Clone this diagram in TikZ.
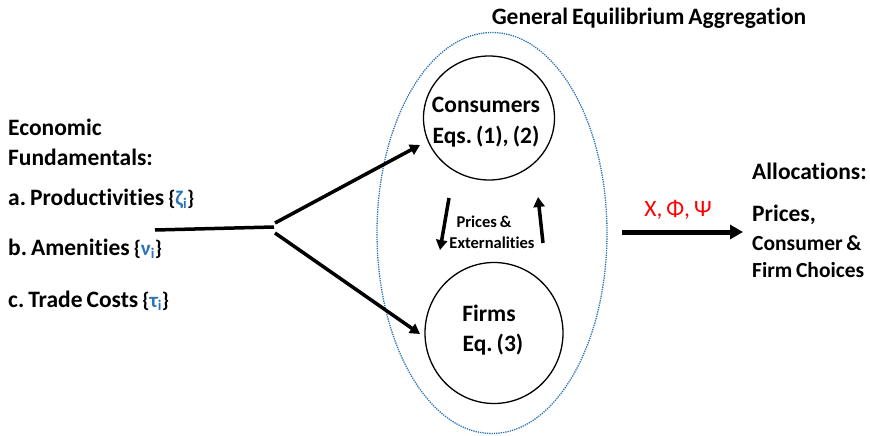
\documentclass[tikz,border=0pt]{standalone}
\usepackage{fontspec}
\setmainfont[Ligatures={NoCommon}]{Carlito}
\usetikzlibrary{arrows.meta,shapes.geometric}
\definecolor{gblue}{RGB}{46,117,182}
\definecolor{gred}{RGB}{255,0,0}
\frenchspacing
\newcommand{\tightsp}{\spaceskip=0.17em plus 0.05em}
\newcommand{\gsym}[1]{{\fontsize{21}{25}\selectfont\{\textcolor{gblue}{#1\textsubscript{i}}\}}}
\tikzset{
  lbl/.style={font=\bfseries\fontsize{23.5}{28}\selectfont\tightsp, anchor=west, inner sep=0pt},
  lbls/.style={font=\bfseries\fontsize{21.5}{26}\selectfont\tightsp, anchor=west, inner sep=0pt},
  ctr/.style={font=\bfseries\fontsize{23.5}{28}\selectfont\tightsp, inner sep=0pt},
  circ/.style={draw, ellipse, inner sep=0pt, line width=1.3pt},
  arr/.style={line width=3.5pt, -{Triangle[length=10pt,width=11pt]}},
  ln/.style={line width=3.5pt},
}
\begin{document}
\begin{tikzpicture}[x=1pt,y=-1pt]
\useasboundingbox (0,0) rectangle (870,436);
% ellipse
\node (ell) [draw=gblue, densely dotted, line width=1.3pt, ellipse, minimum width=230pt, minimum height=401pt, inner sep=0pt] at (492,233) {};
\node (title) [ctr] at (649,18) {General Equilibrium Aggregation};
% circles
\node (cons) [circ, minimum width=131pt, minimum height=124pt] at (489,118) {};
\node (firm) [circ, minimum width=138pt, minimum height=141pt] at (494,333) {};
\node (ct1) [ctr] at (486,105) {Consumers};
\node (ct2) [ctr] at (486,137) {Eqs. (1), (2)};
\node (ft1) [ctr] at (489,313) {Firms};
\node (ft2) [ctr] at (493,345) {Eq. (3)};
% left text
\node (e1) [lbl] at (8,127) {Economic};
\node (e2) [lbl] at (8,157) {Fundamentals:};
\node (a) [lbl] at (8,199) {a. Productivities \gsym{ζ}};
\node (b) [lbl] at (8,249) {b. Amenities \gsym{ν}};
\node (c) [lbl] at (8,301) {c. Trade Costs \gsym{τ}};
% connectors
\coordinate (s) at (155,230);
\coordinate (j) at (274,227);
\coordinate (ju) at (275,223);
\coordinate (jd) at (275,233);
\coordinate (up) at (420,145);
\coordinate (dn) at (420,334);
\draw[ln] (s) -- (j);
\draw[arr] (ju) -- (up);
\draw[arr] (jd) -- (dn);
\coordinate (d1) at (449,198);
\coordinate (d2) at (440,250);
\coordinate (u1) at (543,243);
\coordinate (u2) at (538,197);
\draw[arr] (d1) -- (d2);
\draw[arr] (u1) -- (u2);
\node (pe1) [font=\bfseries\fontsize{16.5}{20}\selectfont\tightsp, inner sep=0pt] at (484,222) {Prices \&};
\node (pe2) [font=\bfseries\fontsize{16.5}{20}\selectfont\tightsp, inner sep=0pt] at (492,243) {Externalities};
% right
\coordinate (r1) at (622,232);
\coordinate (r2) at (743,232);
\draw[line width=5pt, -{Triangle[length=13pt,width=14pt]}] (r1) -- (r2);
\node (xl) [font=\fontsize{23.5}{28}\selectfont\tightsp, text=gred, inner sep=0pt] at (678,210) {X, Φ, Ψ};
\node (al) [lbl] at (752,171) {Allocations:};
\node (p1) [lbl] at (752,215) {Prices,};
\node (p2) [lbls] at (752,243) {Consumer \&};
\node (p3) [lbls] at (752,270) {Firm Choices};
\end{tikzpicture}
\end{document}
